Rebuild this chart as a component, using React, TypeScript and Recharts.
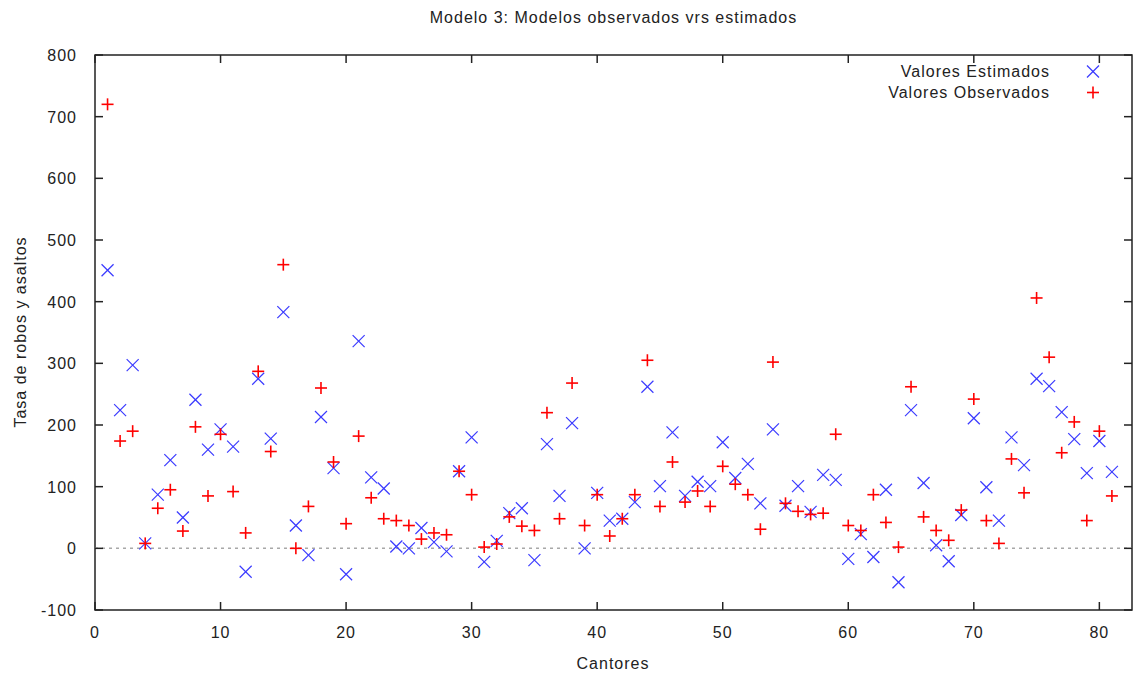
import React from 'react';
import {
  ScatterChart,
  Scatter,
  XAxis,
  YAxis,
  ReferenceLine,
  ReferenceArea,
  Legend,
} from 'recharts';

// gnuplot-style scatter: estimated vs observed values per cantón
const estimados = [
  451, 224, 297, 8, 87, 143, 50, 241, 160, 193,
  165, -38, 275, 178, 383, 37, -11, 213, 130, -42,
  336, 115, 97, 3, 0, 33, 10, -5, 125, 180,
  -22, 12, 57, 65, -19, 169, 85, 203, 0, 90,
  45, 48, 75, 262, 101, 188, 85, 108, 101, 172,
  114, 137, 73, 193, 69, 101, 59, 119, 111, -17,
  23, -14, 95, -55, 224, 106, 5, -21, 54, 211,
  99, 45, 180, 135, 275, 263, 221, 177, 122, 174,
  124,
];

const observados = [
  720, 174, 190, 8, 65, 95, 28, 197, 85, 185,
  92, 25, 287, 157, 460, 0, 68, 260, 140, 40,
  182, 82, 48, 45, 37, 15, 25, 22, 125, 87,
  2, 7, 51, 36, 29, 220, 48, 268, 37, 87,
  20, 48, 87, 305, 68, 140, 75, 93, 68, 133,
  104, 87, 31, 302, 73, 60, 55, 57, 185, 37,
  29, 87, 42, 2, 262, 51, 29, 13, 62, 242,
  45, 8, 145, 90, 406, 310, 155, 205, 45, 190,
  85,
];

const xTicks = [0, 10, 20, 30, 40, 50, 60, 70, 80];
const yTicks = [-100, 0, 100, 200, 300, 400, 500, 600, 700, 800];

const estData = estimados.map((v, i) => ({ x: i + 1, y: v }));
const obsData = observados.map((v, i) => ({ x: i + 1, y: v }));

const PLOT_LEFT = 95;
const PLOT_RIGHT = 1132;
const PLOT_TOP = 55;
const PLOT_BOTTOM = 610;
const FONT = '"Liberation Sans", Arial, sans-serif';
const BLUE = '#3a3aff';
const RED = '#ff0000';

const CrossShape = (props: any) => {
  const { cx, cy } = props;
  if (cx == null || cy == null) return null;
  return (
    <g stroke={BLUE} strokeWidth={1.2}>
      <line x1={cx - 6} y1={cy - 6} x2={cx + 6} y2={cy + 6} />
      <line x1={cx - 6} y1={cy + 6} x2={cx + 6} y2={cy - 6} />
    </g>
  );
};

const PlusShape = (props: any) => {
  const { cx, cy } = props;
  if (cx == null || cy == null) return null;
  return (
    <g stroke={RED} strokeWidth={1.6}>
      <line x1={cx - 6} y1={cy} x2={cx + 6} y2={cy} />
      <line x1={cx} y1={cy - 6} x2={cx} y2={cy + 6} />
    </g>
  );
};

const XTick = (props: any) => {
  const { x, payload } = props;
  return (
    <g>
      <line x1={x} x2={x} y1={PLOT_BOTTOM} y2={PLOT_BOTTOM - 8} stroke="#222" strokeWidth={1.5} />
      <line x1={x} x2={x} y1={PLOT_TOP} y2={PLOT_TOP + 8} stroke="#222" strokeWidth={1.5} />
      <text x={x} y={638} textAnchor="middle" fontSize={16} letterSpacing={1} fill="#222" fontFamily={FONT}>
        {payload.value}
      </text>
    </g>
  );
};

const YTick = (props: any) => {
  const { y, payload } = props;
  return (
    <g>
      <line x1={PLOT_LEFT} x2={PLOT_LEFT + 8} y1={y} y2={y} stroke="#222" strokeWidth={1.5} />
      <line x1={PLOT_RIGHT} x2={PLOT_RIGHT - 8} y1={y} y2={y} stroke="#222" strokeWidth={1.5} />
      <text x={77} y={y + 6} textAnchor="end" fontSize={16} letterSpacing={1} fill="#222" fontFamily={FONT}>
        {payload.value}
      </text>
    </g>
  );
};

const LegendBox = () => {
  const rows = [
    { name: 'Valores Estimados', mark: 'x' },
    { name: 'Valores Observados', mark: '+' },
  ];
  return (
    <div style={{ fontFamily: FONT, fontSize: 16, letterSpacing: 1, color: '#222' }}>
      {rows.map((r) => (
        <div key={r.name} style={{ display: 'flex', alignItems: 'center', height: 21 }}>
          <span style={{ width: 200, textAlign: 'right' }}>{r.name}</span>
          <svg width={70} height={21}>
            {r.mark === 'x' ? (
              <g stroke={BLUE} strokeWidth={1.2}>
                <line x1={37} y1={4.5} x2={49} y2={16.5} />
                <line x1={37} y1={16.5} x2={49} y2={4.5} />
              </g>
            ) : (
              <g stroke={RED} strokeWidth={1.6}>
                <line x1={37} y1={10.5} x2={49} y2={10.5} />
                <line x1={43} y1={4.5} x2={43} y2={16.5} />
              </g>
            )}
          </svg>
        </div>
      ))}
    </div>
  );
};

export default function App() {
  return (
    <div style={{ position: 'absolute', left: 0, top: 0, width: 1133, height: 675, background: '#fff' }}>
      <div
        style={{
          position: 'absolute',
          left: PLOT_LEFT,
          width: PLOT_RIGHT - PLOT_LEFT,
          top: 9,
          textAlign: 'center',
          fontFamily: FONT,
          fontSize: 16,
          letterSpacing: 1,
          color: '#222',
        }}
      >
        Modelo 3: Modelos observados vrs estimados
      </div>
      <ScatterChart width={1133} height={675} margin={{ top: 55, right: 1, bottom: 0, left: 0 }}>
        <XAxis
          type="number"
          dataKey="x"
          domain={[0, 82.6]}
          ticks={xTicks}
          allowDataOverflow
          axisLine={false}
          tickLine={false}
          height={65}
          tick={<XTick />}
          label={(p: any) => (
            <text x={613} y={669} textAnchor="middle" fontSize={16} letterSpacing={1} fill="#222" fontFamily={FONT}>
              Cantores
            </text>
          )}
        />
        <YAxis
          type="number"
          dataKey="y"
          domain={[-100, 800]}
          ticks={yTicks}
          allowDataOverflow
          axisLine={false}
          tickLine={false}
          width={95}
          tick={<YTick />}
          label={(p: any) => (
            <text
              x={26}
              y={332}
              transform="rotate(-90 26 332)"
              textAnchor="middle"
              fontSize={16}
              letterSpacing={1}
              fill="#222"
              fontFamily={FONT}
            >
              Tasa de robos y asaltos
            </text>
          )}
        />
        <ReferenceLine y={0} stroke="#a8a8a8" strokeWidth={1.5} strokeDasharray="3 4" />
        <ReferenceArea x1={0} x2={82.6} y1={-100} y2={800} fill="none" stroke="#222" strokeWidth={1.5} ifOverflow="extendDomain" />
        <Legend
          verticalAlign="middle"
          align="center"
          layout="horizontal"
          wrapperStyle={{ top: 61, left: 850, width: 280 }}
          content={<LegendBox />}
        />
        <Scatter name="Valores Estimados" data={estData} shape={<CrossShape />} isAnimationActive={false} />
        <Scatter name="Valores Observados" data={obsData} shape={<PlusShape />} isAnimationActive={false} />
      </ScatterChart>
    </div>
  );
}
